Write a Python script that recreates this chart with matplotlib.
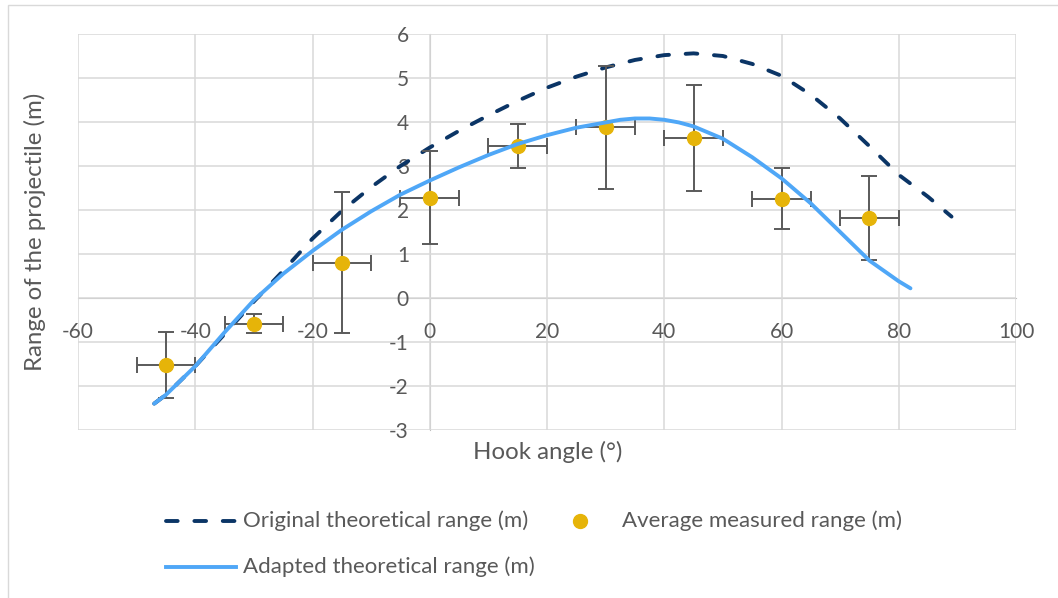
import matplotlib
matplotlib.use("Agg")
import matplotlib.pyplot as plt
from matplotlib.lines import Line2D
from matplotlib.patches import Rectangle

plt.rcParams['font.family'] = ['Lato', 'DejaVu Sans']
plt.rcParams['axes.unicode_minus'] = False

# ---- data ----
orig_x = [-47, -45, -40, -35, -30, -25, -20, -15, -10, -5, 0, 5, 10, 15, 20, 25, 30,
          35, 40, 45, 50, 55, 60, 65, 70, 75, 80, 85, 89]
orig_y = [-2.4, -2.2, -1.55, -0.82, -0.08, 0.62, 1.35, 1.98, 2.52, 3.0, 3.42, 3.8, 4.15,
          4.48, 4.78, 5.03, 5.24, 5.41, 5.52, 5.56, 5.5, 5.32, 5.05, 4.62, 4.08, 3.45,
          2.8, 2.3, 1.85]

adapt_x = [-47, -45, -40, -35, -30, -25, -20, -15, -10, -5, 0, 5, 10, 15, 20, 25, 30,
           32.5, 35, 37.5, 40, 42.5, 45, 50, 55, 60, 65, 70, 75, 80, 82]
adapt_y = [-2.4, -2.2, -1.55, -0.78, -0.05, 0.55, 1.07, 1.55, 1.97, 2.35, 2.67, 2.97,
           3.25, 3.5, 3.7, 3.87, 3.99, 4.05, 4.08, 4.08, 4.05, 3.99, 3.9, 3.62, 3.2,
           2.72, 2.15, 1.5, 0.85, 0.38, 0.22]

meas_x = [-45, -30, -15, 0, 15, 30, 45, 60, 75]
meas_y = [-1.52, -0.58, 0.8, 2.28, 3.46, 3.88, 3.63, 2.26, 1.82]
meas_yerr = [0.75, 0.21, 1.6, 1.05, 0.5, 1.4, 1.2, 0.7, 0.96]
meas_xerr = [5, 5, 5, 5, 5, 5, 5, 5, 5]

x_ticks = [-60, -40, -20, 0, 20, 40, 60, 80, 100]
y_ticks = [-3, -2, -1, 0, 1, 2, 3, 4, 5, 6]

labels = ['Original theoretical range (m)', 'Average measured range (m)',
          'Adapted theoretical range (m)']

# ---- style ----
c_orig = '#0B3566'
c_adapt = '#4FA7F7'
c_meas = '#E6B409'
c_err = '#5A5A5A'
c_text = '#595959'
c_grid = '#D9D9D9'

W, H = 1058, 598
fig = plt.figure(figsize=(W / 100, H / 100), dpi=100)
fig.patch.set_facecolor('white')

# chart border
fig.add_artist(Rectangle((7.5 / W, -0.01), 1.1, (H - 5) / H + 0.01, transform=fig.transFigure,
                         fill=False, edgecolor='#D9D9D9', linewidth=1.0))

ax = fig.add_axes([78 / W, 1 - 430 / H, (1016 - 78) / W, (430 - 34) / H])
ax.set_xlim(-60, 100)
ax.set_ylim(-3, 6)
ax.set_xticks(x_ticks)
ax.set_yticks(y_ticks)
ax.grid(True, color=c_grid, linewidth=1.1, zorder=0)
ax.set_axisbelow(True)
for s in ['top', 'right']:
    ax.spines[s].set_visible(False)
ax.spines['left'].set_position(('data', 0))
ax.spines['bottom'].set_position(('data', 0))
ax.spines['left'].set_color('#BFBFBF')
ax.spines['bottom'].set_color('#BFBFBF')
ax.spines['left'].set_zorder(0.5)
ax.spines['bottom'].set_zorder(0.5)
ax.tick_params(axis='both', length=0, labelsize=15, labelcolor=c_text)
ax.tick_params(axis='y', pad=15)
ax.tick_params(axis='x', pad=17)

ax.plot(orig_x, orig_y, color=c_orig, linewidth=2.8, linestyle=(0, (3.0, 4.3)),
        dash_capstyle='round', zorder=3)
ax.errorbar(meas_x, meas_y, yerr=meas_yerr, xerr=meas_xerr, fmt='o', color=c_meas,
            markersize=10, ecolor=c_err, elinewidth=1.4, capsize=5.5, capthick=1.4,
            zorder=4)
ax.plot(adapt_x, adapt_y, color=c_adapt, linewidth=2.8, solid_capstyle='round',
        solid_joinstyle='round', zorder=5)

fig.text(548 / W, 1 - 452 / H, 'Hook angle (°)', ha='center', va='center',
         fontsize=17.3, color=c_text)
fig.text(35 / W, 1 - 232 / H, 'Range of the projectile (m)', ha='center', va='center',
         rotation=90, fontsize=17.3, color=c_text)

# legend (manual)
r1 = 1 - 521 / H
r2 = 1 - 567 / H
fig.add_artist(Line2D([166 / W, 236 / W], [r1, r1], color=c_orig, linewidth=2.8,
                      linestyle=(0, (3.0, 4.3)), dash_capstyle='round'))
fig.add_artist(Line2D([580 / W], [r1], marker='o', color=c_meas, markersize=10,
                      linestyle='none'))
fig.add_artist(Line2D([166 / W, 236 / W], [r2, r2], color=c_adapt, linewidth=2.8))
fig.text(243 / W, r1, labels[0], ha='left', va='center', fontsize=16, color=c_text)
fig.text(622 / W, r1, labels[1], ha='left', va='center', fontsize=16, color=c_text)
fig.text(243 / W, r2, labels[2], ha='left', va='center', fontsize=16, color=c_text)

fig.savefig('out.png', dpi=100)
